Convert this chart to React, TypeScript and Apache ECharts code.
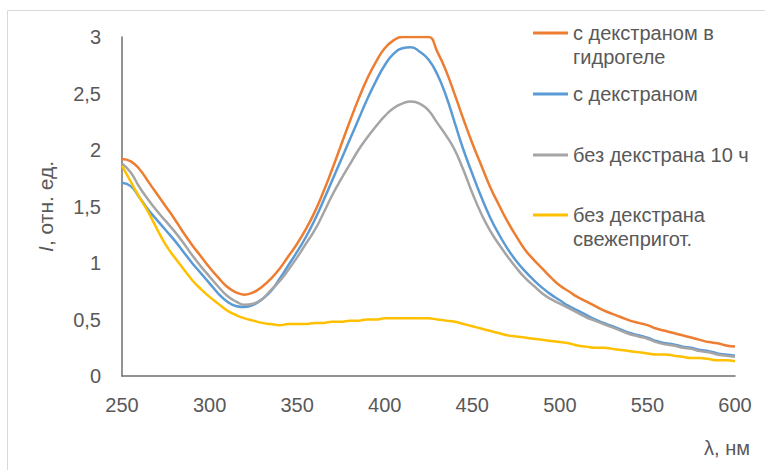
import React, { useEffect, useRef } from "react";
import * as echarts from "echarts";

const wavelengths: number[] = [];
for (let w = 250; w <= 600; w += 5) wavelengths.push(w);

const seriesNames = [
  "с декстраном в\nгидрогеле",
  "с декстраном",
  "без декстрана 10 ч",
  "без декстрана\nсвежепригот.",
];

const hydrogel = [
  1.92, 1.90, 1.83, 1.72, 1.61, 1.50, 1.39, 1.27, 1.16, 1.06,
  0.96, 0.87, 0.79, 0.74, 0.72, 0.74, 0.79, 0.86, 0.95, 1.06,
  1.17, 1.30, 1.45, 1.63, 1.83, 2.04, 2.25, 2.45, 2.63, 2.78,
  2.90, 2.97, 3.0, 3.0, 3.0, 3.0, 2.87, 2.70, 2.49, 2.27,
  2.06, 1.87, 1.68, 1.52, 1.37, 1.24, 1.12, 1.03, 0.95, 0.87,
  0.80, 0.75, 0.70, 0.66, 0.62, 0.58, 0.55, 0.52, 0.49, 0.47,
  0.45, 0.42, 0.40, 0.38, 0.36, 0.34, 0.32, 0.30, 0.29, 0.27,
  0.26,
];

const dextran = [
  1.71, 1.68, 1.58, 1.47, 1.38, 1.29, 1.20, 1.10, 1.00, 0.91,
  0.82, 0.73, 0.66, 0.62, 0.61, 0.63, 0.68, 0.75, 0.86, 0.98,
  1.10, 1.23, 1.38, 1.55, 1.73, 1.91, 2.09, 2.27, 2.45, 2.61,
  2.75, 2.85, 2.90, 2.91, 2.87, 2.80, 2.67, 2.48, 2.24, 2.00,
  1.79, 1.59, 1.41, 1.26, 1.13, 1.02, 0.93, 0.85, 0.78, 0.72,
  0.67, 0.62, 0.58, 0.54, 0.50, 0.47, 0.44, 0.41, 0.38, 0.36,
  0.34, 0.31, 0.29, 0.28, 0.26, 0.25, 0.23, 0.22, 0.20, 0.19,
  0.18,
];

const noDextran10h = [
  1.88, 1.80, 1.67, 1.56, 1.46, 1.37, 1.28, 1.18, 1.07, 0.97,
  0.88, 0.79, 0.71, 0.66, 0.63, 0.64, 0.68, 0.76, 0.84, 0.94,
  1.05, 1.17, 1.29, 1.44, 1.60, 1.74, 1.87, 2.00, 2.11, 2.21,
  2.30, 2.37, 2.41, 2.43, 2.41, 2.35, 2.24, 2.13, 2.00, 1.82,
  1.62, 1.44, 1.29, 1.17, 1.06, 0.96, 0.87, 0.80, 0.73, 0.68,
  0.64, 0.60, 0.56, 0.52, 0.49, 0.46, 0.43, 0.40, 0.37, 0.35,
  0.33, 0.30, 0.28, 0.27, 0.25, 0.24, 0.22, 0.21, 0.19, 0.18,
  0.17,
];

const noDextranFresh = [
  1.86, 1.72, 1.58, 1.45, 1.30, 1.16, 1.05, 0.95, 0.85, 0.77,
  0.70, 0.64, 0.58, 0.54, 0.51, 0.49, 0.47, 0.46, 0.45, 0.46,
  0.46, 0.46, 0.47, 0.47, 0.48, 0.48, 0.49, 0.49, 0.50, 0.50,
  0.51, 0.51, 0.51, 0.51, 0.51, 0.51, 0.50, 0.49, 0.48, 0.46,
  0.44, 0.42, 0.40, 0.38, 0.36, 0.35, 0.34, 0.33, 0.32, 0.31,
  0.30, 0.29, 0.27, 0.26, 0.25, 0.25, 0.24, 0.23, 0.22, 0.21,
  0.20, 0.19, 0.19, 0.18, 0.17, 0.16, 0.16, 0.15, 0.14, 0.14,
  0.13,
];

const seriesValues = [hydrogel, dextran, noDextran10h, noDextranFresh];
const colors = ["#ED7D31", "#5B9BD5", "#A5A5A5", "#FFC000"];
const legendCenters = [33, 94, 155, 215];

const FONT = "'Liberation Sans', Arial, sans-serif";
const TEXT = "#595959";

export default function App() {
  const ref = useRef<HTMLDivElement>(null);
  useEffect(() => {
    if (!ref.current) return;
    const chart = echarts.init(ref.current, null, { renderer: "svg" });
    const lh = 24;
    const legends = seriesNames.map((name, i) => {
      const multi = name.includes("\n");
      const h = multi ? lh * 3 : lh;
      return {
        data: [name],
        orient: "vertical",
        left: 533,
        top: legendCenters[i] - h / 2,
        padding: 0,
        itemWidth: 35,
        itemHeight: 3,
        icon: "rect",
        selectedMode: false,
        formatter: (n: string) => (n.includes("\n") ? "\n" + n : n),
        textStyle: { fontFamily: FONT, fontSize: 20, color: TEXT, lineHeight: lh },
      };
    });
    chart.setOption({
      animation: false,
      textStyle: { fontFamily: FONT },
      color: colors,
      grid: { left: 122, top: 37, width: 613, height: 339, containLabel: false },
      legend: legends,
      graphic: [
        {
          type: "rect",
          shape: { x: 7.5, y: 10.5, width: 800, height: 500 },
          style: { fill: "none", stroke: "#D9D9D9", lineWidth: 1 },
          silent: true,
          z: -1,
        },
      ],
      xAxis: {
        type: "value",
        min: 250,
        max: 600,
        interval: 50,
        name: "λ, нм",
        nameLocation: "end",
        nameGap: 15,
        nameTextStyle: {
          fontFamily: FONT,
          fontSize: 20,
          color: TEXT,
          align: "right",
          verticalAlign: "top",
          padding: [62, 0, 0, 0],
        },
        axisLine: { show: true, lineStyle: { color: "#6f6f6f", width: 1.5 } },
        axisTick: { show: false },
        splitLine: { show: false },
        axisLabel: { fontSize: 20, color: TEXT, margin: 19, fontFamily: FONT },
      },
      yAxis: {
        type: "value",
        min: 0,
        max: 3,
        interval: 0.5,
        name: "{i|I}, отн. ед.",
        nameLocation: "middle",
        nameGap: 66,
        nameRotate: 90,
        nameTextStyle: {
          fontFamily: FONT,
          fontSize: 21,
          color: TEXT,
          rich: { i: { fontStyle: "italic", fontFamily: FONT, fontSize: 21, color: TEXT } },
        },
        axisLine: { show: true, lineStyle: { color: "#6f6f6f", width: 1.5 } },
        axisTick: { show: false },
        splitLine: { show: false },
        axisLabel: {
          fontSize: 20,
          color: TEXT,
          margin: 21,
          fontFamily: FONT,
          formatter: (v: number) => String(v).replace(".", ","),
        },
      },
      series: seriesNames.map((name, i) => ({
        name,
        type: "line",
        showSymbol: false,
        smooth: 0.5,
        data: wavelengths.map((w, j) => [w, seriesValues[i][j]]),
        lineStyle: { width: 2.5, color: colors[i] },
        itemStyle: { color: colors[i] },
        z: 2 + i,
      })),
    });
    return () => chart.dispose();
  }, []);
  return (
    <div
      ref={ref}
      style={{ position: "fixed", left: 0, top: 0, width: 765, height: 470, background: "#fff" }}
    />
  );
}
